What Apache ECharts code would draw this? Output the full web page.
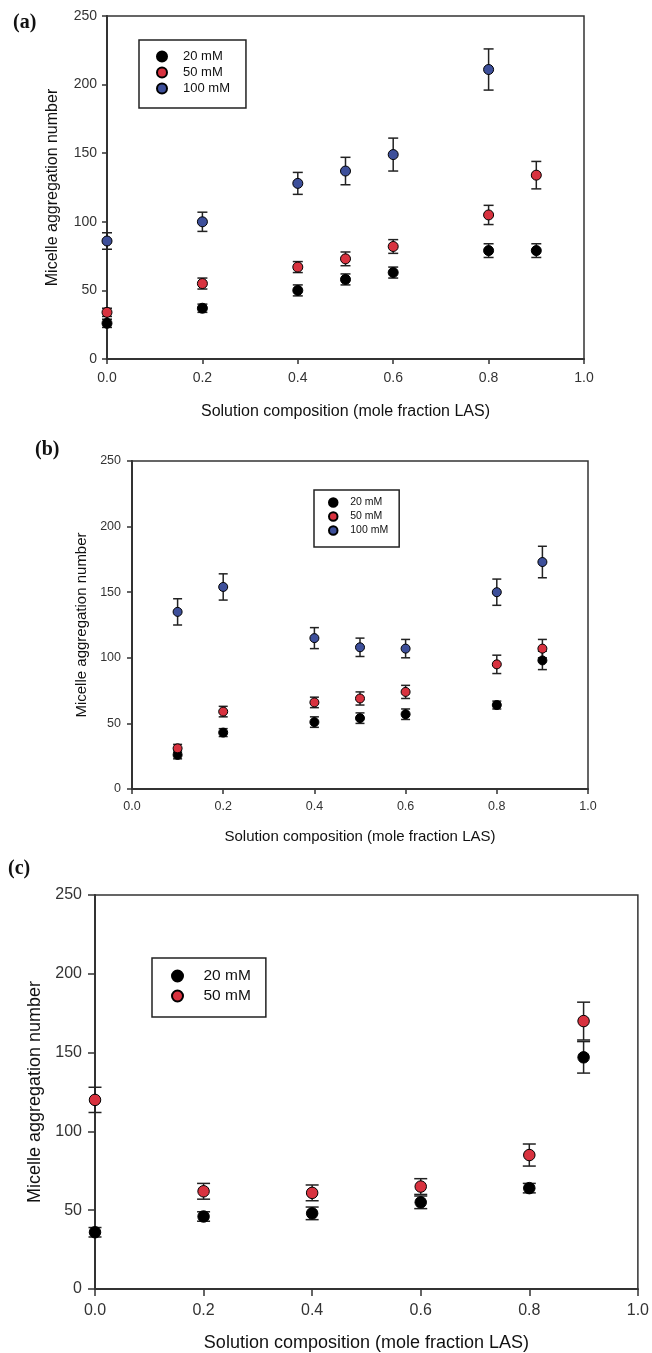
<!DOCTYPE html>
<html>
<head>
<meta charset="utf-8">
<script src="https://cdn.jsdelivr.net/npm/echarts@6/dist/echarts.min.js"></script>
<style>
  html, body { margin: 0; padding: 0; background: #fff; }
  #chart { width: 652px; height: 1353px; }
</style>
</head>
<body>
<div id="chart"></div>
<script>
// Micelle aggregation number vs. solution composition (mole fraction LAS)

// Panel (a)
const xA = [0.0, 0.2, 0.4, 0.5, 0.6, 0.8, 0.9];
const a20 = [26, 37, 50, 58, 63, 79, 79];
const a20Err = [3, 3, 4, 4, 4, 5, 5];
const a50 = [34, 55, 67, 73, 82, 105, 134];
const a50Err = [3, 4, 4, 5, 5, 7, 10];
const a100 = [86, 100, 128, 137, 149, 211, null];
const a100Err = [6, 7, 8, 10, 12, 15, null];

// Panel (b)
const xB = [0.1, 0.2, 0.4, 0.5, 0.6, 0.8, 0.9];
const b20 = [26, 43, 51, 54, 57, 64, 98];
const b20Err = [3, 3, 4, 4, 4, 3, 7];
const b50 = [31, 59, 66, 69, 74, 95, 107];
const b50Err = [3, 4, 4, 5, 5, 7, 7];
const b100 = [135, 154, 115, 108, 107, 150, 173];
const b100Err = [10, 10, 8, 7, 7, 10, 12];

// Panel (c)
const xC = [0.0, 0.2, 0.4, 0.6, 0.8, 0.9];
const c20 = [36, 46, 48, 55, 64, 147];
const c20Err = [3, 3, 4, 4, 3, 10];
const c50 = [120, 62, 61, 65, 85, 170];
const c50Err = [8, 5, 5, 5, 7, 12];

const seriesNames = ['20 mM', '50 mM', '100 mM'];
const xTicks = [0, 0.2, 0.4, 0.6, 0.8, 1.0];
const yTicks = [0, 50, 100, 150, 200, 250];
const panelLabels = ['(a)', '(b)', '(c)'];
const xTitle = 'Solution composition (mole fraction LAS)';
const yTitle = 'Micelle aggregation number';

const colors = { '20 mM': '#000000', '50 mM': '#d8323f', '100 mM': '#3d4f9a' };
const FONT = '"Liberation Sans", Arial, sans-serif';

// per-panel layout
const panels = [
  { grid: { left: 107, top: 16, width: 477, height: 343 },
    tickFont: 14, titleFont: 16, yGap: 46, xGap: 45, xMargin: 12, yMargin: 10, tickLen: 5,
    sym: 10, cap: 5, label: { x: 13, y: 23, size: 20 } },
  { grid: { left: 132, top: 461, width: 456, height: 328 },
    tickFont: 12.5, titleFont: 15, yGap: 42, xGap: 40, xMargin: 11, yMargin: 11, tickLen: 5,
    sym: 9, cap: 4.5, label: { x: 35, y: 450, size: 20 } },
  { grid: { left: 95, top: 895, width: 546, height: 394 },
    tickFont: 16, titleFont: 18, yGap: 50, xGap: 45, xMargin: 14, yMargin: 13, tickLen: 7,
    sym: 11.5, cap: 6.5, label: { x: 8, y: 869, size: 20 } }
];

const axisColor = '#333';
const grids = [], xAxes = [], yAxes = [], series = [], legends = [], graphics = [];

panels.forEach((p, i) => {
  grids.push(Object.assign({ show: true, borderColor: axisColor, borderWidth: 1.5,
    backgroundColor: 'transparent', containLabel: false }, p.grid));
  xAxes.push({
    gridIndex: i, type: 'value', min: 0, max: 1, interval: 0.2,
    name: xTitle, nameLocation: 'middle', nameGap: p.xGap,
    nameTextStyle: { fontFamily: FONT, fontSize: p.titleFont, color: '#111' },
    axisLine: { show: true, onZero: false, lineStyle: { color: axisColor, width: 2 } },
    axisTick: { show: true, inside: false, length: p.tickLen, lineStyle: { color: axisColor, width: 1.5 } },
    axisLabel: { margin: p.xMargin, fontFamily: FONT, fontSize: p.tickFont, color: '#333',
      formatter: v => v.toFixed(1) },
    splitLine: { show: false }
  });
  yAxes.push({
    gridIndex: i, type: 'value', min: 0, max: 250, interval: 50,
    name: yTitle, nameLocation: 'middle', nameGap: p.yGap, nameRotate: 90,
    nameTextStyle: { fontFamily: FONT, fontSize: p.titleFont, color: '#111' },
    axisLine: { show: true, onZero: false, lineStyle: { color: axisColor, width: 2 } },
    axisTick: { show: true, inside: false, length: p.tickLen, lineStyle: { color: axisColor, width: 1.5 } },
    axisLabel: { margin: p.yMargin, fontFamily: FONT, fontSize: p.tickFont, color: '#333' },
    splitLine: { show: false }
  });
  graphics.push({
    type: 'text', left: p.label.x, top: p.label.y - p.label.size / 2,
    style: { text: panelLabels[i], font: 'bold ' + p.label.size + 'px "Liberation Serif", "Times New Roman", serif', fill: '#111' }
  });
});

function errorBars(panel, name, xs, ys, es) {
  const cap = panels[panel].cap;
  return {
    type: 'custom', name: name + ' error', xAxisIndex: panel, yAxisIndex: panel,
    z: 2, silent: true,
    data: xs.map((x, k) => ys[k] == null ? null : [x, ys[k], es[k]]).filter(d => d),
    encode: { x: 0, y: 1 },
    renderItem(params, api) {
      const x = api.value(0), y = api.value(1), e = api.value(2);
      const hi = api.coord([x, y + e]);
      const lo = api.coord([x, y - e]);
      const style = { stroke: '#222', lineWidth: 1.5 };
      return { type: 'group', children: [
        { type: 'line', shape: { x1: hi[0], y1: hi[1], x2: lo[0], y2: lo[1] }, style },
        { type: 'line', shape: { x1: hi[0] - cap, y1: hi[1], x2: hi[0] + cap, y2: hi[1] }, style },
        { type: 'line', shape: { x1: lo[0] - cap, y1: lo[1], x2: lo[0] + cap, y2: lo[1] }, style }
      ] };
    }
  };
}

function points(panel, name, xs, ys) {
  return {
    type: 'scatter', name, xAxisIndex: panel, yAxisIndex: panel, z: 3, clip: false,
    symbol: 'circle', symbolSize: panels[panel].sym,
    itemStyle: { color: colors[name], borderColor: '#000', borderWidth: 1, opacity: 1 },
    data: xs.map((x, k) => ys[k] == null ? null : [x, ys[k]]).filter(d => d)
  };
}

const panelData = [
  [['20 mM', xA, a20, a20Err], ['50 mM', xA, a50, a50Err], ['100 mM', xA, a100, a100Err]],
  [['20 mM', xB, b20, b20Err], ['50 mM', xB, b50, b50Err], ['100 mM', xB, b100, b100Err]],
  [['20 mM', xC, c20, c20Err], ['50 mM', xC, c50, c50Err]]
];

panelData.forEach((list, i) => {
  list.forEach(([name, xs, ys, es]) => {
    series.push(errorBars(i, name, xs, ys, es));
    series.push(points(i, name, xs, ys));
  });
});

const legendBase = {
  orient: 'vertical', show: true, selectedMode: false,
  borderColor: '#222', borderWidth: 1.5, backgroundColor: '#fff',
  icon: 'circle'
};
legends.push(Object.assign({}, legendBase, {
  left: 139, top: 40, padding: [10, 16, 13, 17], itemGap: 3,
  itemWidth: 20, itemHeight: 10,
  data: seriesNames,
  textStyle: { fontFamily: FONT, fontSize: 13, color: '#111', lineHeight: 13, padding: [0, 0, 0, 6] }
}));
legends.push(Object.assign({}, legendBase, {
  left: 314, top: 490, padding: [7, 11, 11, 14], itemGap: 3,
  itemWidth: 16, itemHeight: 8.5,
  data: seriesNames,
  textStyle: { fontFamily: FONT, fontSize: 10.5, color: '#111', lineHeight: 10.5, padding: [0, 0, 0, 4] }
}));
legends.push(Object.assign({}, legendBase, {
  left: 152, top: 958, padding: [10, 15, 13, 19], itemGap: 4,
  itemWidth: 20, itemHeight: 11,
  data: seriesNames.slice(0, 2),
  textStyle: { fontFamily: FONT, fontSize: 15.5, color: '#111', lineHeight: 15, padding: [0, 0, 0, 11] }
}));

const chart = echarts.init(document.getElementById('chart'), null, { renderer: 'canvas' });
chart.setOption({
  animation: false,
  backgroundColor: '#fff',
  grid: grids,
  xAxis: xAxes,
  yAxis: yAxes,
  legend: legends,
  graphic: graphics,
  series: series
});
</script>
</body>
</html>
